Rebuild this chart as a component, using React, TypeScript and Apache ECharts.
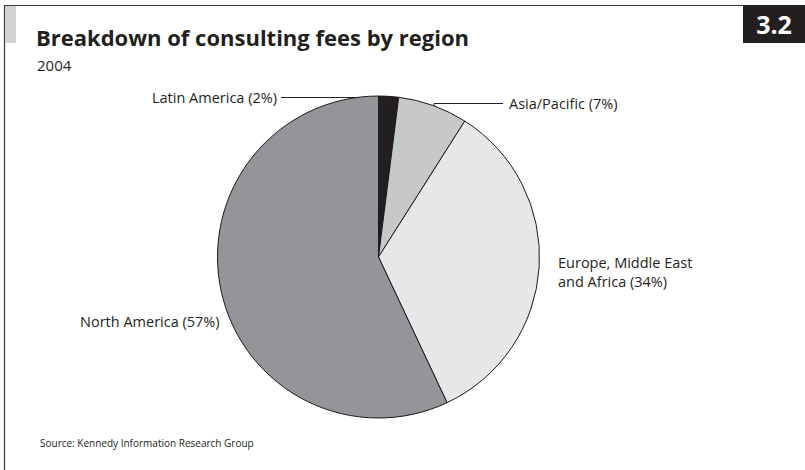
import React, { useEffect, useRef } from "react";
import * as echarts from "echarts";

const categories = ["Latin America", "Asia/Pacific", "Europe, Middle East and Africa", "North America"];
const shares = [2, 7, 34, 57];
const sliceColors = ["#231f20", "#c7c8ca", "#e6e7e8", "#939598"];
const titleText = "Breakdown of consulting fees by region";
const subtitleText = "2004";
const sourceText = "Source: Kennedy Information Research Group";
const badgeText = "3.2";

const FONT = "'Open Sans', 'Noto Sans', sans-serif";

export default function App() {
  const ref = useRef<HTMLDivElement>(null);
  useEffect(() => {
    document.body.style.margin = "0";
    const chart = echarts.init(ref.current!, null, { renderer: "svg" });
    const lbl = (i: number) => `${categories[i]} (${shares[i]}%)`;
    chart.setOption({
      animation: false,
      backgroundColor: "#ffffff",
      series: [
        {
          type: "pie",
          center: [378.5, 257],
          radius: 161,
          startAngle: 90,
          clockwise: true,
          label: { show: false },
          labelLine: { show: false },
          emphasis: { disabled: true },
          itemStyle: { borderColor: "#1a1a1a", borderWidth: 1 },
          data: categories.map((c, i) => ({
            name: c,
            value: shares[i],
            itemStyle: { color: sliceColors[i] },
          })),
        },
      ],
      graphic: [
        // frame
        { type: "line", shape: { x1: 4, y1: 5.5, x2: 743, y2: 5.5 }, style: { stroke: "#3a3a3a", lineWidth: 1.2 } },
        { type: "line", shape: { x1: 4.5, y1: 5, x2: 4.5, y2: 470 }, style: { stroke: "#3a3a3a", lineWidth: 1.2 } },
        { type: "rect", shape: { x: 5, y: 6, width: 11, height: 37 }, style: { fill: "#d1d2d4" } },
        // badge
        { type: "rect", shape: { x: 743, y: 5, width: 62, height: 38 }, style: { fill: "#231f20" } },
        {
          type: "text",
          x: 774,
          y: 24,
          style: { text: badgeText, fill: "#ffffff", font: `bold 25px ${FONT}`, align: "center", verticalAlign: "middle" },
        },
        // title
        {
          type: "text",
          x: 36,
          y: 37,
          style: { text: titleText, fill: "#231f20", font: `bold 22px ${FONT}`, align: "left", verticalAlign: "middle" },
        },
        {
          type: "text",
          x: 37,
          y: 65,
          style: { text: subtitleText, fill: "#231f20", font: `15px ${FONT}`, align: "left", verticalAlign: "middle" },
        },
        {
          type: "text",
          x: 40,
          y: 443,
          style: { text: sourceText, fill: "#231f20", font: `10px ${FONT}`, align: "left", verticalAlign: "middle" },
        },
        // leader lines
        {
          type: "polyline",
          shape: { points: [[382, 103], [382, 97.5], [281, 97.5]] },
          style: { stroke: "#231f20", lineWidth: 1, fill: null },
        },
        {
          type: "polyline",
          shape: { points: [[434, 119], [434, 103.5], [503, 103.5]] },
          style: { stroke: "#231f20", lineWidth: 1, fill: null },
        },
        // labels
        {
          type: "text",
          x: 277,
          y: 97,
          style: { text: lbl(0), fill: "#231f20", font: `14.5px ${FONT}`, align: "right", verticalAlign: "middle" },
        },
        {
          type: "text",
          x: 509,
          y: 103,
          style: { text: lbl(1), fill: "#231f20", font: `14.5px ${FONT}`, align: "left", verticalAlign: "middle" },
        },
        {
          type: "text",
          x: 558,
          y: 272,
          style: {
            text: `Europe, Middle East\nand Africa (${shares[2]}%)`,
            fill: "#231f20",
            font: `14.5px ${FONT}`,
            lineHeight: 19,
            align: "left",
            verticalAlign: "middle",
          },
        },
        {
          type: "text",
          x: 80,
          y: 321,
          style: { text: lbl(3), fill: "#231f20", font: `14.5px ${FONT}`, align: "left", verticalAlign: "middle" },
        },
      ],
    });
    return () => chart.dispose();
  }, []);
  return <div ref={ref} style={{ width: 805, height: 470 }} />;
}
